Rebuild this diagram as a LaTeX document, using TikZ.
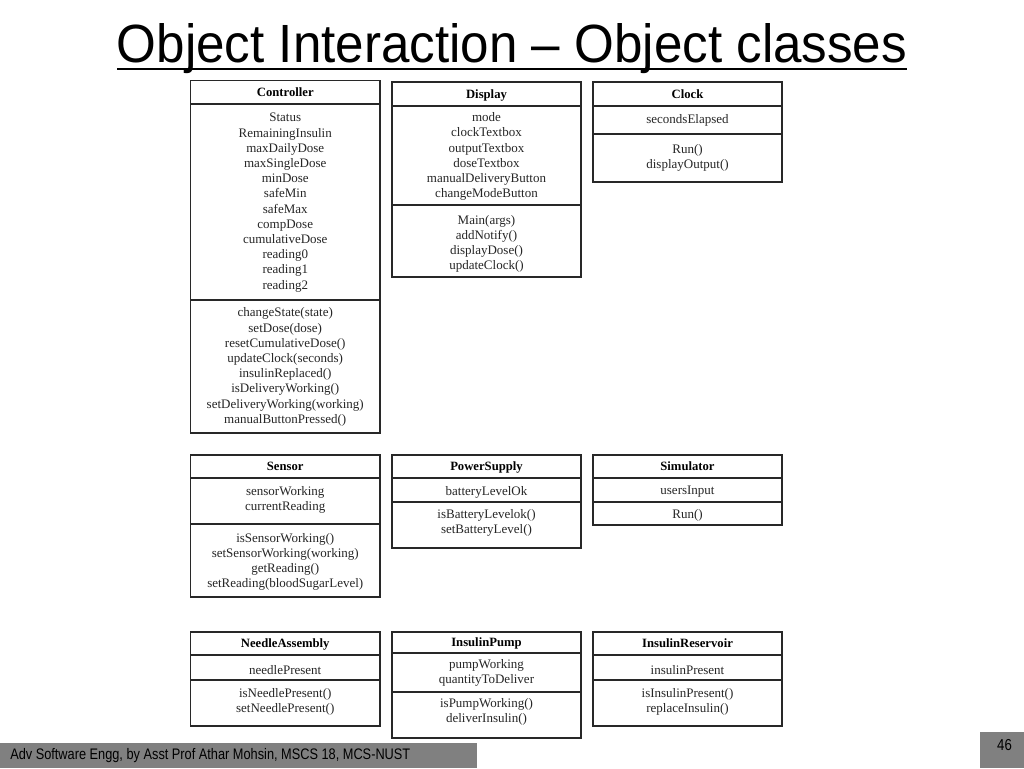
\documentclass[tikz,border=0pt]{standalone}
\usepackage{fontspec}
\setmainfont{Liberation Serif}
\newfontfamily\arialf{Liberation Sans}
\usetikzlibrary{fit,calc}
\definecolor{linec}{RGB}{40,40,40}
\definecolor{footg}{RGB}{128,128,128}
\tikzset{
  comp/.style={draw=linec, line width=1pt, inner sep=0pt},
  hdr/.style={inner sep=0pt, anchor=base, font=\fontsize{9.5}{11}\selectfont\bfseries, text=black},
  txt/.style={inner sep=0pt, align=center, font=\fontsize{9.75}{11.4}\selectfont, text=black!85},
}
\begin{document}
\begin{tikzpicture}[x=0.75pt,y=-0.75pt]
\path[use as bounding box, fill=white] (0,0) rectangle (1024,768);

% title
\node[inner sep=0pt, anchor=base] (title) at (512,62) {\arialf\resizebox{592.5pt}{29.25pt}{Object Interaction – Object classes}};
\coordinate (ulL) at (117,69);
\coordinate (ulR) at (907,69);
\draw[line width=2.2pt] (ulL) -- (ulR);

% Controller
\node[comp, fit={(190.5,80.5) (380,104)}] (ctrlH) {};
\node[comp, fit={(190.5,104) (380,300)}] (ctrlA) {};
\node[comp, fit={(190.5,300) (380,433)}] (ctrlM) {};
\node[hdr] (ctrlHt) at ($(ctrlH.center)+(0,4.4)$) {Controller};
\node[txt] (ctrlAt) at (285.25,202.5) {Status\\RemainingInsulin\\maxDailyDose\\maxSingleDose\\minDose\\safeMin\\safeMax\\compDose\\cumulativeDose\\reading0\\reading1\\reading2};
\node[txt] (ctrlMt) at (285.25,367) {changeState(state)\\setDose(dose)\\resetCumulativeDose()\\updateClock(seconds)\\insulinReplaced()\\isDeliveryWorking()\\setDeliveryWorking(working)\\manualButtonPressed()};

% Display
\node[comp, fit={(392,82) (581,106)}] (dispH) {};
\node[comp, fit={(392,106) (581,205)}] (dispA) {};
\node[comp, fit={(392,205) (581,277)}] (dispM) {};
\node[hdr] (dispHt) at ($(dispH.center)+(0,4.4)$) {Display};
\node[txt] (dispAt) at (486.5,156.5) {mode\\clockTextbox\\outputTextbox\\doseTextbox\\manualDeliveryButton\\changeModeButton};
\node[txt] (dispMt) at (486.5,244) {Main(args)\\addNotify()\\displayDose()\\updateClock()};

% Clock
\node[comp, fit={(593,82) (782,106)}] (clkH) {};
\node[comp, fit={(593,106) (782,134)}] (clkA) {};
\node[comp, fit={(593,134) (782,182)}] (clkM) {};
\node[hdr] (clkHt) at ($(clkH.center)+(0,4.4)$) {Clock};
\node[txt] (clkAt) at (687.5,120) {secondsElapsed};
\node[txt] (clkMt) at (687.5,157.5) {Run()\\displayOutput()};

% Sensor
\node[comp, fit={(190.5,455) (380,478)}] (senH) {};
\node[comp, fit={(190.5,478) (380,524)}] (senA) {};
\node[comp, fit={(190.5,524) (380,597)}] (senM) {};
\node[hdr] (senHt) at ($(senH.center)+(0,4.4)$) {Sensor};
\node[txt] (senAt) at (285.25,500) {sensorWorking\\currentReading};
\node[txt] (senMt) at (285.25,562) {isSensorWorking()\\setSensorWorking(working)\\getReading()\\setReading(bloodSugarLevel)};

% PowerSupply
\node[comp, fit={(392,455) (581,478)}] (psH) {};
\node[comp, fit={(392,478) (581,502)}] (psA) {};
\node[comp, fit={(392,502) (581,548)}] (psM) {};
\node[hdr] (psHt) at ($(psH.center)+(0,4.4)$) {PowerSupply};
\node[txt] (psAt) at (486.5,492) {batteryLevelOk};
\node[txt] (psMt) at (486.5,523) {isBatteryLevelok()\\setBatteryLevel()};

% Simulator
\node[comp, fit={(593,455) (782,478)}] (simH) {};
\node[comp, fit={(593,478) (782,502)}] (simA) {};
\node[comp, fit={(593,502) (782,525)}] (simM) {};
\node[hdr] (simHt) at ($(simH.center)+(0,4.4)$) {Simulator};
\node[txt] (simAt) at (687.5,492) {usersInput};
\node[txt] (simMt) at (687.5,515) {Run()};

% NeedleAssembly
\node[comp, fit={(190.5,632) (380,655)}] (ndlH) {};
\node[comp, fit={(190.5,655) (380,680)}] (ndlA) {};
\node[comp, fit={(190.5,680) (380,726)}] (ndlM) {};
\node[hdr] (ndlHt) at ($(ndlH.center)+(0,4.4)$) {NeedleAssembly};
\node[txt] (ndlAt) at (285.25,670) {needlePresent};
\node[txt] (ndlMt) at (285.25,701.5) {isNeedlePresent()\\setNeedlePresent()};

% InsulinPump
\node[comp, fit={(392,632) (581,653)}] (pmpH) {};
\node[comp, fit={(392,653) (581,692)}] (pmpA) {};
\node[comp, fit={(392,692) (581,738)}] (pmpM) {};
\node[hdr] (pmpHt) at ($(pmpH.center)+(0,4.4)$) {InsulinPump};
\node[txt] (pmpAt) at (486.5,672.5) {pumpWorking\\quantityToDeliver};
\node[txt] (pmpMt) at (486.5,712) {isPumpWorking()\\deliverInsulin()};

% InsulinReservoir
\node[comp, fit={(593,632) (782,655)}] (resH) {};
\node[comp, fit={(593,655) (782,680)}] (resA) {};
\node[comp, fit={(593,680) (782,726)}] (resM) {};
\node[hdr] (resHt) at ($(resH.center)+(0,4.4)$) {InsulinReservoir};
\node[txt] (resAt) at (687.5,670) {insulinPresent};
\node[txt] (resMt) at (687.5,701.5) {isInsulinPresent()\\replaceInsulin()};

% footer
\node[fill=footg, inner sep=0pt, fit={(0,743) (477,768)}] (foot) {};
\node[inner sep=0pt, anchor=west] (foott) at (10,756) {\arialf\resizebox{300pt}{8.3pt}{Adv Software Engg, by Asst Prof Athar Mohsin, MSCS 18, MCS-NUST}};
\node[fill=footg, inner sep=0pt, fit={(980,732) (1024,768)}] (pg) {};
\node[inner sep=0pt] (pgt) at (1004.5,745) {\arialf\resizebox{11pt}{8.3pt}{46}};
\end{tikzpicture}
\end{document}
